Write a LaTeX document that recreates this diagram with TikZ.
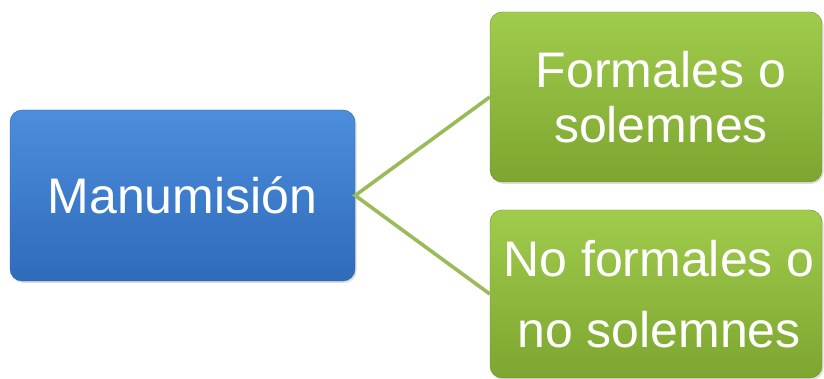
\documentclass[tikz,border=0pt]{standalone}
\usepackage{fontspec}
\setmainfont{Liberation Sans}
\usepackage{xcolor}
\usetikzlibrary{positioning, shadows}

\definecolor{manublue}{HTML}{3F7FD0}
\definecolor{manubluetop}{HTML}{4C8EDC}
\definecolor{manubluebot}{HTML}{2F6BBA}
\definecolor{formgreen}{HTML}{8DB83C}
\definecolor{formgreentop}{HTML}{A0CC4C}
\definecolor{formgreenbot}{HTML}{7DA530}
\definecolor{linkgreen}{HTML}{9BBB59}

\tikzset{
  box/.style={rectangle, rounded corners=12pt, inner sep=0pt, align=center,
    text=white, font=\fontsize{50}{55}\selectfont,
    drop shadow={opacity=0.25, shadow xshift=1.5pt, shadow yshift=-2pt}},
  bluebox/.style={box, top color=manubluetop, bottom color=manubluebot,
    draw=manublue!80!black, line width=0.4pt},
  greenbox/.style={box, top color=formgreentop, bottom color=formgreenbot,
    draw=formgreen!80!black, line width=0.4pt},
  link/.style={linkgreen, line width=3.6pt}
}

\begin{document}
\begin{tikzpicture}[x=1pt,y=-1pt]
    \useasboundingbox (0,0) rectangle (824,379);

    % root
    \node[bluebox, minimum width=345pt, minimum height=171pt] (manu) at (182.5,195.5) {Manumisi\'on};

    % kinds
    \node[greenbox, minimum width=332pt, minimum height=170pt] (formal) at (656,97)
      {\hspace*{10pt}Formales o\\\hspace*{10pt}solemnes};
    \node[greenbox, minimum width=332pt, minimum height=168pt] (noformal) at (656,294)
      {\hspace*{6pt}No formales o\\[16pt]\hspace*{6pt}no solemnes};

    \draw[link] (formal.west) -- (manu.east) -- (noformal.west);
  \end{tikzpicture}
\end{document}
